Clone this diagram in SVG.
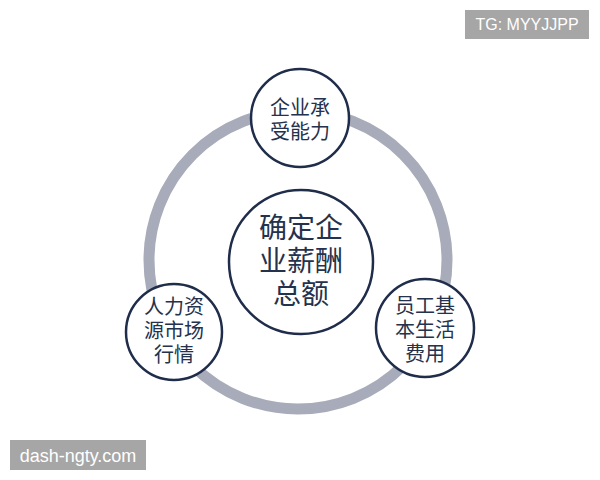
<svg xmlns="http://www.w3.org/2000/svg" width="600" height="480" viewBox="0 0 600 480">
<style>
.node{fill:#ffffff;stroke:#1f2d4b;stroke-width:2.5}
.t{font-family:"Noto Sans CJK SC","Noto Sans",sans-serif;fill:#24324d;text-anchor:middle}
.s{font-size:20px}
.b{font-size:28px}
.wm{fill:#a6a6a6}
.wt{font-family:"Liberation Sans","DejaVu Sans",sans-serif;fill:#ffffff;text-anchor:middle}
</style>
<rect width="600" height="480" fill="#ffffff"/>
<g id="connectors">
<circle cx="298" cy="260" r="149" fill="none" stroke="#a8abb9" stroke-width="11"/>
</g>
<g id="center">
<circle class="node" cx="301" cy="262" r="72"/>
<text class="t b" x="301" y="238">确定企</text>
<text class="t b" x="301" y="271">业薪酬</text>
<text class="t b" x="301" y="304">总额</text>
</g>
<g id="top">
<circle class="node" cx="300" cy="118" r="49"/>
<text class="t s" x="300" y="115">企业承</text>
<text class="t s" x="300" y="139">受能力</text>
</g>
<g id="left">
<circle class="node" cx="174" cy="332" r="48"/>
<text class="t s" x="174" y="314">人力资</text>
<text class="t s" x="174" y="338">源市场</text>
<text class="t s" x="174" y="362">行情</text>
</g>
<g id="right">
<circle class="node" cx="425" cy="328" r="49"/>
<text class="t s" x="425" y="313">员工基</text>
<text class="t s" x="425" y="337">本生活</text>
<text class="t s" x="425" y="361">费用</text>
</g>
<g id="watermarks">
<rect class="wm" x="465" y="10" width="124" height="29"/>
<text class="wt" x="527" y="30" font-size="16">TG: MYYJJPP</text>
<rect class="wm" x="10" y="440" width="136" height="30"/>
<text class="wt" x="78" y="462" font-size="18">dash-ngty.com</text>
</g>
</svg>
